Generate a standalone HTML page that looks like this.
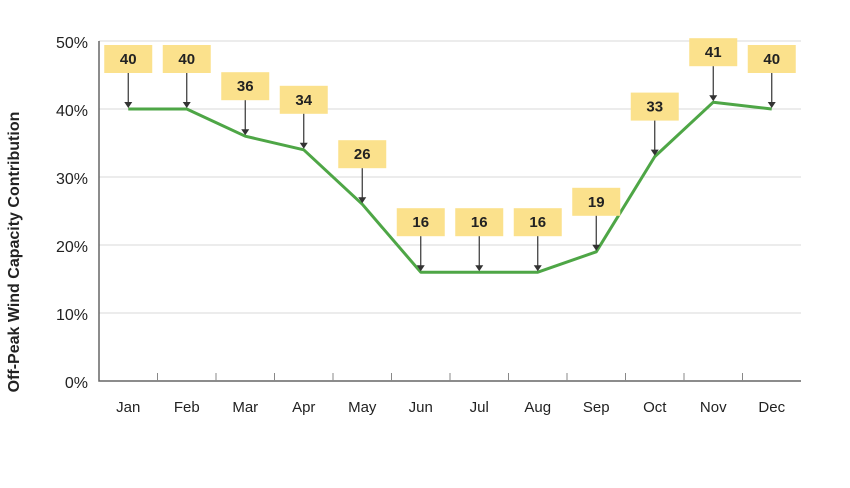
<!DOCTYPE html>
<html><head><meta charset="utf-8"><style>
body{margin:0;background:#fff;font-family:"Liberation Sans",sans-serif}
</style></head><body>
<svg id="c" width="850" height="483" xmlns="http://www.w3.org/2000/svg"></svg>
<script>
const months=["Jan","Feb","Mar","Apr","May","Jun","Jul","Aug","Sep","Oct","Nov","Dec"];
const values=[40,40,36,34,26,16,16,16,19,33,41,40];
const yTicks=[0,10,20,30,40,50];
const yTickLabels=["0%","10%","20%","30%","40%","50%"];
const svg=document.getElementById('c');
const NS="http://www.w3.org/2000/svg";
const x0=99,x1=801,y0=381,yTop=41;
const bw=(x1-x0)/months.length;
const xs=i=>x0+bw*(i+0.5);
const ys=v=>y0-(v/50)*(y0-yTop);
function mk(t,a,p){const e=document.createElementNS(NS,t);for(const k in a)e.setAttribute(k,a[k]);(p||svg).appendChild(e);return e;}
yTicks.forEach((v,i)=>{
 if(v>0){const g=mk('line',{x1:x0,x2:x1,y1:ys(v),y2:ys(v),stroke:'#d9d9d9','stroke-width':1});
 
 }
 const t=mk('text',{x:88,y:ys(v)+7,'text-anchor':'end','font-size':16,fill:'#222'});
 t.textContent=yTickLabels[i];
 
 
});
const ax=mk('path',{d:`M${x0} ${yTop}V${y0}H${x1}`,stroke:'#666','stroke-width':1.5,fill:'none'});


months.forEach((m,i)=>{
 if(i>0){const tk=mk('line',{x1:x0+bw*i,x2:x0+bw*i,y1:y0,y2:y0-8,stroke:'#888','stroke-width':1});
 
 }
 const t=mk('text',{x:xs(i),y:412,'text-anchor':'middle','font-size':15,fill:'#222'});
 t.textContent=m;
 
 
});
const yt=mk('text',{x:0,y:0,transform:'translate(19,252) rotate(-90)','text-anchor':'middle','font-size':16,'font-weight':'bold',fill:'#222'});
yt.textContent='Off-Peak Wind Capacity Contribution';


const ln=mk('polyline',{points:values.map((v,i)=>xs(i)+','+ys(v)).join(' '),fill:'none',stroke:'#4ea646','stroke-width':3,'stroke-linejoin':'round'});


values.forEach((v,i)=>{
 const g=mk('g',{});
 
 
 const py=ys(v),bb=py-36;
 mk('rect',{x:xs(i)-24,y:bb-28,width:48,height:28,fill:'#fbe18c'},g);
 const t=mk('text',{x:xs(i),y:bb-9,'text-anchor':'middle','font-size':15,'font-weight':'bold',fill:'#222'},g);
 t.textContent=v;
 mk('line',{x1:xs(i),x2:xs(i),y1:bb,y2:py-6,stroke:'#333','stroke-width':1.2},g);
 mk('path',{d:`M${xs(i)-4} ${py-7}L${xs(i)+4} ${py-7}L${xs(i)} ${py-1}Z`,fill:'#333'},g);
});
</script>
</body></html>
